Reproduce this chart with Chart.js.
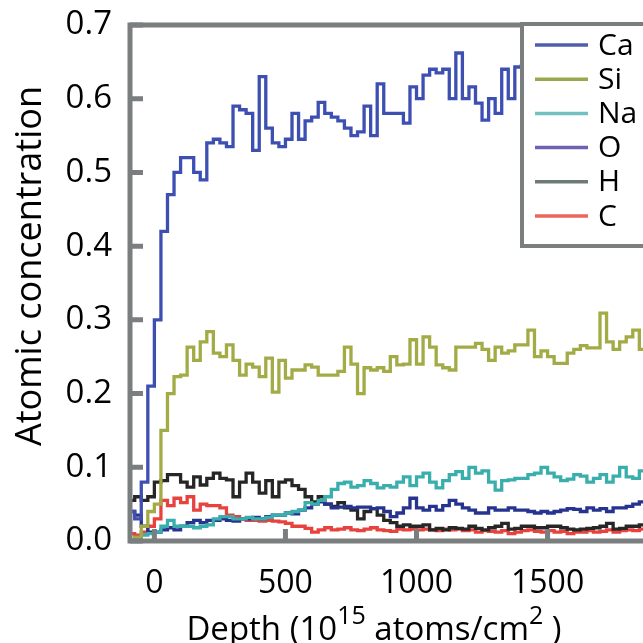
<!DOCTYPE html>
<html>
<head>
<meta charset="utf-8">
<script src="https://cdn.jsdelivr.net/npm/chart.js@4.4.1/dist/chart.umd.min.js"></script>
<style>
  html, body { margin: 0; padding: 0; background: #fff; overflow: hidden; }
  #wrap { width: 643px; height: 643px; }
</style>
</head>
<body>
<div id="wrap"><canvas id="depthChart" width="643" height="643"></canvas></div>
<script>
// depth grid, 10^15 atoms/cm2
var depth = [
  -100, -75, -50, -25,   0, 25, 50, 75,   100, 125, 150, 175,   200, 225, 250, 275,
  300, 325, 350, 375,   400, 425, 450, 475,   500, 525, 550, 575,   600, 625, 650, 675,
  700, 725, 750, 775,   800, 825, 850, 875,   900, 925, 950, 975,   1000, 1025, 1050, 1075,
  1100, 1125, 1150, 1175,   1200, 1225, 1250, 1275,   1300, 1325, 1350, 1375,   1400, 1425, 1450, 1475,
  1500, 1525, 1550, 1575,   1600, 1625, 1650, 1675,   1700, 1725, 1750, 1775,   1800, 1825, 1850, 1875
];

var ca = [
  0.04, 0.03, 0.08, 0.21,   0.30, 0.42, 0.47, 0.50,   0.52, 0.52, 0.50, 0.49,   0.54, 0.545, 0.54, 0.535,
  0.59, 0.585, 0.58, 0.53,   0.63, 0.56, 0.54, 0.535,   0.545, 0.58, 0.545, 0.57,   0.575, 0.595, 0.58, 0.575,
  0.57, 0.56, 0.55, 0.555,   0.59, 0.55, 0.62, 0.58,   0.58, 0.58, 0.567, 0.616,   0.60, 0.632, 0.64, 0.635,
  0.64, 0.60, 0.662, 0.60,   0.616, 0.594, 0.571, 0.60,   0.58, 0.64, 0.60, 0.643,   0.645, 0.63, 0.64, 0.62,
  0.63, 0.64, 0.63, 0.625,   0.64, 0.63, 0.635, 0.64,   0.63, 0.645, 0.635, 0.64,   0.63, 0.64, 0.635, 0.64
];
var si = [
  0.0, 0.005, 0.02, 0.04,   0.05, 0.15, 0.20, 0.223,   0.225, 0.263, 0.245, 0.27,   0.284, 0.255, 0.25, 0.266,
  0.245, 0.225, 0.24, 0.236,   0.223, 0.248, 0.202, 0.245,   0.221, 0.232, 0.232, 0.239,   0.236, 0.225, 0.225, 0.225,
  0.23, 0.263, 0.24, 0.20,   0.235, 0.232, 0.235, 0.23,   0.25, 0.239, 0.24, 0.273,   0.24, 0.277, 0.263, 0.239,
  0.235, 0.232, 0.263, 0.263,   0.263, 0.268, 0.26, 0.245,   0.263, 0.255, 0.258, 0.266,   0.266, 0.286, 0.25, 0.258,
  0.25, 0.241, 0.241, 0.255,   0.26, 0.265, 0.262, 0.262,   0.309, 0.27, 0.26, 0.27,   0.277, 0.286, 0.26, 0.27
];
var na = [
  0.0, 0.005, 0.008, 0.01,   0.012, 0.02, 0.028, 0.02,   0.02, 0.02, 0.018, 0.02,   0.022, 0.03, 0.033, 0.033,
  0.03, 0.03, 0.032, 0.03,   0.03, 0.032, 0.035, 0.035,   0.038, 0.04, 0.042, 0.052,   0.05, 0.055, 0.06, 0.07,
  0.078, 0.08, 0.073, 0.075,   0.082, 0.078, 0.072, 0.075,   0.073, 0.08, 0.087, 0.075,   0.087, 0.092, 0.08, 0.072,
  0.082, 0.09, 0.094, 0.085,   0.10, 0.092, 0.095, 0.08,   0.069, 0.082, 0.083, 0.085,   0.085, 0.09, 0.092, 0.10,
  0.092, 0.087, 0.082, 0.084,   0.09, 0.088, 0.08, 0.085,   0.09, 0.08, 0.088, 0.10,   0.087, 0.085, 0.095, 0.09
];
var o = [
  0.04, 0.035, 0.02, 0.012,   0.012, 0.015, 0.018, 0.015,   0.02, 0.025, 0.028, 0.025,   0.028, 0.028, 0.03, 0.028,
  0.027, 0.03, 0.03, 0.032,   0.03, 0.033, 0.035, 0.035,   0.038, 0.037, 0.042, 0.045,   0.05, 0.053, 0.05, 0.045,
  0.046, 0.047, 0.045, 0.046,   0.046, 0.044, 0.045, 0.04,   0.033, 0.038, 0.045, 0.058,   0.045, 0.042, 0.047, 0.042,
  0.048, 0.055, 0.05, 0.045,   0.042, 0.038, 0.038, 0.045,   0.042, 0.042, 0.045, 0.042,   0.042, 0.04, 0.038, 0.04,
  0.038, 0.04, 0.042, 0.044,   0.043, 0.04, 0.045, 0.042,   0.044, 0.04, 0.045, 0.045,   0.047, 0.05, 0.053, 0.05
];
var h = [
  0.055, 0.06, 0.055, 0.06,   0.08, 0.082, 0.09, 0.09,   0.08, 0.073, 0.087, 0.076,   0.085, 0.092, 0.085, 0.083,
  0.06, 0.08, 0.092, 0.08,   0.065, 0.082, 0.06, 0.08,   0.083, 0.075, 0.07, 0.06,   0.053, 0.06, 0.05, 0.047,
  0.052, 0.045, 0.042, 0.03,   0.04, 0.044, 0.035, 0.028,   0.025, 0.02, 0.022, 0.02,   0.02, 0.022, 0.015, 0.017,
  0.015, 0.018, 0.017, 0.016,   0.02, 0.017, 0.015, 0.018,   0.02, 0.024, 0.016, 0.017,   0.02, 0.02, 0.018, 0.018,
  0.02, 0.02, 0.018, 0.016,   0.015, 0.016, 0.017, 0.018,   0.02, 0.024, 0.016, 0.017,   0.02, 0.02, 0.022, 0.02
];
var c = [
  0.01, 0.008, 0.012, 0.02,   0.03, 0.055, 0.048, 0.058,   0.052, 0.06, 0.042, 0.05,   0.048, 0.048, 0.045, 0.035,
  0.033, 0.03, 0.028, 0.028,   0.027, 0.028, 0.027, 0.026,   0.024, 0.02, 0.02, 0.017,   0.012, 0.015, 0.018, 0.015,
  0.016, 0.018, 0.015, 0.014,   0.016, 0.018, 0.015, 0.014,   0.013, 0.016, 0.015, 0.016,   0.015, 0.016, 0.015, 0.014,
  0.016, 0.015, 0.016, 0.014,   0.015, 0.012, 0.014, 0.013,   0.012, 0.014, 0.01, 0.012,   0.014, 0.015, 0.013, 0.012,
  0.014, 0.012, 0.013, 0.01,   0.012, 0.012, 0.014, 0.012,   0.013, 0.015, 0.012, 0.014,   0.015, 0.014, 0.016, 0.015
];

var elements = ['Ca', 'Si', 'Na', 'O', 'H', 'C'];
var xTicks = [0, 500, 1000, 1500];
var yTicks = [0, 0.1, 0.2, 0.3, 0.4, 0.5, 0.6, 0.7];

var lineColors = ['#3e4fb2', '#a2ab46', '#3aadad', '#27348f', '#262626', '#e8423e'];
var legendColors = ['#4f5fae', '#9ba64e', '#72c1c0', '#6d62b2', '#6f7a78', '#e8665a'];
var frameColor = '#7a7e7f';
var font = 'Open Sans';

var series = [ca, si, na, o, h, c];

function toPoints(vals) {
  return depth.map(function(d, i) { return { x: d, y: vals[i] }; });
}

// gray frame with inward ticks, drawn over the lines
var framePlugin = {
  id: 'frame',
  afterDatasetsDraw: function(chart) {
    var ctx = chart.ctx, a = chart.chartArea;
    var xs = chart.scales.x, ys = chart.scales.y;
    ctx.save();
    ctx.strokeStyle = frameColor;
    ctx.lineWidth = 5;
    ctx.lineCap = 'butt';
    ctx.beginPath();
    ctx.moveTo(a.right + 10, a.top);
    ctx.lineTo(a.left, a.top);
    ctx.lineTo(a.left, a.bottom);
    ctx.lineTo(a.right + 10, a.bottom);
    ctx.stroke();

    ctx.beginPath();
    yTicks.forEach(function(v) {
      var py = ys.getPixelForValue(v);
      ctx.moveTo(a.left, py);
      ctx.lineTo(a.left + 13, py);
    });
    xTicks.forEach(function(v) {
      var px = xs.getPixelForValue(v);
      ctx.moveTo(px, a.bottom);
      ctx.lineTo(px, a.bottom - 12);
    });
    ctx.stroke();
    ctx.restore();
  },
  afterDraw: function(chart) {
    var ctx = chart.ctx;
    ctx.save();

    // legend box
    var bx = 522, by = 24, bh = 222;
    ctx.fillStyle = '#fff';
    ctx.fillRect(bx, by, 200, bh);
    ctx.strokeStyle = frameColor;
    ctx.lineWidth = 4;
    ctx.strokeRect(bx, by, 200, bh);
    ctx.font = '30px "' + font + '"';
    ctx.textBaseline = 'middle';
    ctx.textAlign = 'left';
    elements.forEach(function(name, i) {
      var ly = 45 + i * 34.2;
      ctx.strokeStyle = legendColors[i];
      ctx.lineWidth = 3.5;
      ctx.beginPath();
      ctx.moveTo(535, ly);
      ctx.lineTo(588, ly);
      ctx.stroke();
      ctx.fillStyle = '#000';
      ctx.fillText(name, 598, ly + 1);
    });

    // y title
    ctx.save();
    ctx.translate(31, 266);
    ctx.rotate(-Math.PI / 2);
    ctx.textAlign = 'center';
    ctx.font = '36px "' + font + '"';
    ctx.fillText('Atomic concentration', 0, 0);
    ctx.restore();

    // x title with superscripts
    var parts = [
      { t: 'Depth (10', sup: false },
      { t: '15', sup: true },
      { t: ' atoms/cm', sup: false },
      { t: '2', sup: true },
      { t: ' )', sup: false }
    ];
    var big = '33px "' + font + '"', small = '25px "' + font + '"';
    var total = 0;
    parts.forEach(function(p) {
      ctx.font = p.sup ? small : big;
      p.w = ctx.measureText(p.t).width;
      total += p.w;
    });
    var x0 = 374 - total / 2, base = 640;
    ctx.textBaseline = 'alphabetic';
    parts.forEach(function(p) {
      ctx.font = p.sup ? small : big;
      ctx.fillText(p.t, x0, p.sup ? base - 16 : base);
      x0 += p.w;
    });
    ctx.restore();
  }
};

var chart = new Chart(document.getElementById('depthChart'), {
  type: 'line',
  data: {
    datasets: elements.map(function(name, i) {
      return {
        label: name,
        data: toPoints(series[i]),
        borderColor: lineColors[i],
        backgroundColor: lineColors[i],
        borderWidth: 3.3,
        pointRadius: 0,
        stepped: true,
        fill: false
      };
    })
  },
  options: {
    responsive: false,
    animation: false,
    layout: { padding: { top: 25, right: 0, left: 0, bottom: 0 } },
    plugins: {
      legend: { display: false },
      tooltip: { enabled: false }
    },
    scales: {
      x: {
        type: 'linear',
        min: -93,
        max: 1864,
        afterFit: function(s) {
          s.height = 102;
          s.paddingLeft = 0; s.paddingRight = 0;
        },
        afterBuildTicks: function(s) { s.ticks = xTicks.map(function(v) { return { value: v }; }); },
        grid: { display: false, drawTicks: false },
        border: { display: false },
        ticks: {
          padding: 24,
          color: '#000',
          font: { family: font, size: 32 },
          maxRotation: 0,
          autoSkip: false,
          callback: function(v) { return String(v); }
        }
      },
      y: {
        min: 0,
        max: 0.7,
        afterFit: function(s) {
          s.width = 130;
          s.paddingTop = 0; s.paddingBottom = 0;
        },
        afterBuildTicks: function(s) { s.ticks = yTicks.map(function(v) { return { value: v }; }); },
        grid: { display: false, drawTicks: false },
        border: { display: false },
        ticks: {
          padding: 18,
          color: '#000',
          font: { family: font, size: 33 },
          callback: function(v) { return v.toFixed(1); }
        }
      }
    }
  },
  plugins: [framePlugin]
});
</script>
</body>
</html>
